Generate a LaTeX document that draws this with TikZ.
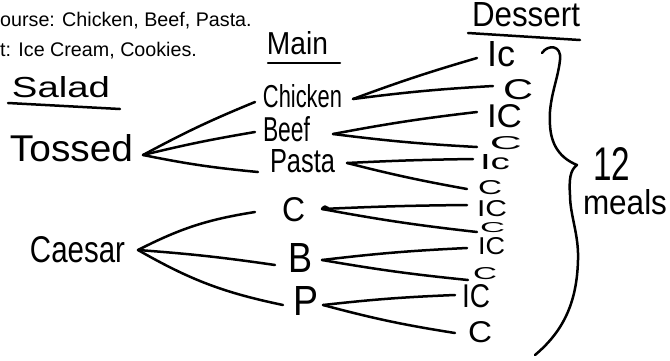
\documentclass[tikz,border=0pt]{standalone}
\usepackage{fontspec}
\setmainfont{Liberation Sans}
\usetikzlibrary{calc}
\newcommand{\hw}[3]{\resizebox{#1pt}{#2pt}{#3}}
\begin{document}
\begin{tikzpicture}[x=1pt,y=-1pt,
  lbl/.style={inner sep=0pt, outer sep=0pt, anchor=center},
  ink/.style={line width=2.5pt, line cap=round, line join=round},
  hdr/.style={inner sep=0pt, anchor=base west, font=\fontsize{19.7}{22}\selectfont}]
\useasboundingbox[fill=white] (0,0) rectangle (670,360);

% header text
\node[hdr] (h1) at (0,26.5) {ourse: Chicken, Beef, Pasta.};
\node[hdr] (h2) at (0,56) {t: Ice Cream, Cookies.};

% column titles
\node[lbl] (sal) at (61,87.5) {\hw{98}{21}{Salad}};
\node[lbl] (mai) at (297.5,43.5) {\hw{61}{23}{Main}};
\node[lbl] (des) at (526,15) {\hw{108}{24}{Dessert}};
\draw[ink] (8,103) -- (120,109);
\draw[ink] (268,63) -- (340,63);
\draw[ink] (468,33) -- (580,40);

% salads
\node[lbl] (tos) at (71.5,148.5) {\hw{123}{27}{Tossed}};
\node[lbl] (cae) at (77.5,250) {\hw{95}{26}{Caesar}};

% mains
\node[lbl] (ch) at (302.5,96.5) {\hw{79}{23}{Chicken}};
\node[lbl] (be) at (286.5,129.5) {\hw{47}{25}{Beef}};
\node[lbl] (pa) at (302.5,161.5) {\hw{65}{23}{Pasta}};
\node[lbl] (mc) at (293.5,210) {\hw{23}{24}{C}};
\node[lbl] (mb) at (300,257.5) {\hw{24}{29}{B}};
\node[lbl] (mp) at (305.5,300.5) {\hw{25}{29}{P}};

% desserts
\node[lbl] (d1) at (501,54.5) {\hw{28}{25}{Ic}};
\node[lbl] (d2) at (518,90) {\hw{30}{20}{C}};
\node[lbl] (d3) at (504.5,116.5) {\hw{35}{23}{IC}};
\node[lbl] (d4) at (506,143.5) {\hw{32}{13}{C}};
\node[lbl] (d5) at (495,162.5) {\hw{30}{15}{Ic}};
\node[lbl] (d6) at (490,187.5) {\hw{24}{14}{C}};
\node[lbl] (d7) at (492,209) {\hw{30}{16}{IC}};
\node[lbl] (d8) at (492.5,227.5) {\hw{25}{10}{C}};
\node[lbl] (d9) at (491.5,246.5) {\hw{27}{17}{IC}};
\node[lbl] (d10) at (485,274) {\hw{24}{12}{C}};
\node[lbl] (d11) at (476,296.5) {\hw{28}{23}{IC}};
\node[lbl] (d12) at (480,332.5) {\hw{24}{21}{C}};

% total
\node[lbl] (n12) at (611.5,163.5) {\hw{37}{33}{12}};
\node[lbl] (mea) at (625,202.5) {\hw{84}{25}{meals}};

% apex coordinates
\coordinate (tA) at ($(tos.east)+(10,6.5)$);
\coordinate (cA) at ($(cae.east)+(13,0)$);
\coordinate (chA) at ($(ch.east)+(11,2.5)$);
\coordinate (beA) at ($(be.east)+(23,4.5)$);
\coordinate (paA) at ($(pa.east)+(12,1.5)$);
\coordinate (mcA) at ($(mc.east)+(17,-1)$);
\coordinate (mbA) at ($(mb.east)+(10,2.5)$);
\coordinate (mpA) at ($(mp.east)+(5,4.5)$);

% salad -> main
\draw[ink] (tA) to[bend left=3] ($(ch.west)+(-8,5.5)$);
\draw[ink] (tA) to[bend left=2] ($(be.west)+(-8,2.5)$);
\draw[ink] (tA) to[bend right=3] ($(pa.west)+(-12,10.5)$);
\draw[ink] (cA) to[bend left=9] ($(mc.west)+(-27,2)$);
\draw[ink] (cA) to[bend left=2] ($(mb.west)+(-13,7.5)$);
\draw[ink] (cA) to[bend right=9] ($(mp.west)+(-10,4.5)$);

% main -> dessert
\draw[ink] (chA) to[bend left=2] ($(d1.west)+(-10,3.5)$);
\draw[ink] (chA) to[bend left=2] ($(d2.west)+(-10,-4)$);
\draw[ink] (beA) to[bend left=2] ($(d3.west)+(-10,-4.5)$);
\draw[ink] (beA) to[bend right=2] ($(d4.west)+(-13,3.5)$);
\draw[ink] (paA) to[bend left=1] ($(d5.west)+(-7,-3.5)$);
\draw[ink] (paA) to[bend right=2] ($(d6.west)+(-11,1.5)$);
\draw[ink] (mcA) to[bend left=1] ($(d7.west)+(-10,-4)$);
\draw[ink] (mcA) to[bend right=2] ($(d8.west)+(-3,4.5)$);
\draw[ink] (mbA) to[bend left=2] ($(d9.west)+(-11,1.5)$);
\draw[ink] (mbA) to[bend right=2] ($(d10.west)+(-5,6)$);
\draw[ink] (mpA) to[bend left=2] ($(d11.west)+(-7,-1.5)$);
\draw[ink] (mpA) to[bend right=3] ($(d12.west)+(-13,0.5)$);
\draw[ink] (mcA) .. controls ++(2,-3) and ++(-2,-2) .. ++(6,-1);

% brace
\draw[ink] (542,53) .. controls (548,44) and (562,45) .. (560,60)
  .. controls (558,80) and (548,100) .. (550,125)
  .. controls (551,145) and (560,158) .. (577,165)
  .. controls (570,170) and (569,180) .. (570,195)
  .. controls (570,215) and (579,235) .. (578,260)
  .. controls (577,300) and (565,330) .. (535,355);
\end{tikzpicture}
\end{document}
